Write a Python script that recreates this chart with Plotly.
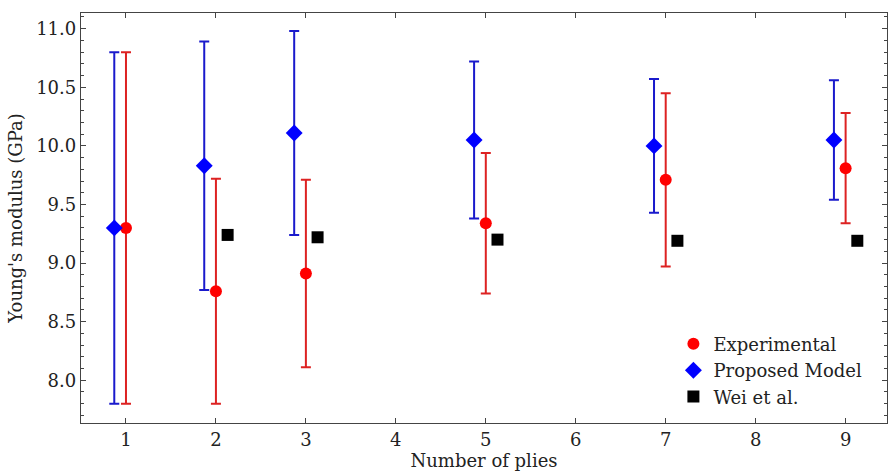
import plotly.graph_objects as go

plies = [1, 2, 3, 5, 7, 9]
exp_vals = [9.30, 8.76, 8.91, 9.34, 9.71, 9.81]
exp_err = [1.50, 0.96, 0.80, 0.60, 0.74, 0.47]
model_vals = [9.30, 9.83, 10.11, 10.05, 10.00, 10.05]
model_err = [1.50, 1.06, 0.87, 0.67, 0.57, 0.51]
wei_plies = [2, 3, 5, 7, 9]
wei_vals = [9.24, 9.22, 9.20, 9.19, 9.19]
offset = 0.13
font_family = "DejaVu Serif"

fig = go.Figure()
fig.add_trace(go.Scatter(
    x=plies, y=exp_vals, mode="markers", name="Experimental",
    marker=dict(symbol="circle", size=12, color="#ff0000"),
    error_y=dict(type="data", array=exp_err, visible=True, color="#dd2222", thickness=2, width=5),
))
fig.add_trace(go.Scatter(
    x=[p - offset for p in plies], y=model_vals, mode="markers", name="Proposed Model",
    marker=dict(symbol="diamond", size=13, color="#0000ff"),
    error_y=dict(type="data", array=model_err, visible=True, color="#1a1acc", thickness=2, width=5),
))
fig.add_trace(go.Scatter(
    x=[p + offset for p in wei_plies], y=wei_vals, mode="markers", name="Wei et al.",
    marker=dict(symbol="square", size=12, color="#000000"),
))

axis_common = dict(
    showline=True, linecolor="#444444", linewidth=1.3, mirror="ticks",
    ticks="inside", tickcolor="#444444", tickwidth=1.2, ticklen=5,
    showgrid=False, zeroline=False,
    tickfont=dict(family=font_family, size=18, color="#222222"),
)

fig.update_layout(
    width=888, height=473,
    margin=dict(l=81, r=1, t=13, b=50),
    paper_bgcolor="white", plot_bgcolor="white",
    font=dict(family=font_family, color="#222222"),
    showlegend=True,
    legend=dict(
        x=0.735, y=0.018, xanchor="left", yanchor="bottom",
        bgcolor="rgba(255,255,255,0)", borderwidth=0,
        font=dict(family=font_family, size=18, color="#222222"),
        itemsizing="trace", tracegroupgap=0,
    ),
    xaxis=dict(
        range=[0.5, 9.46], tickmode="array", tickvals=list(range(1, 10)),
        title=dict(text="Number of plies", font=dict(family=font_family, size=18), standoff=4),
        **axis_common,
    ),
    yaxis=dict(
        range=[7.635, 11.134], tickmode="array", tickvals=[8.0, 8.5, 9.0, 9.5, 10.0, 10.5, 11.0],
        ticktext=["8.0", "8.5", "9.0", "9.5", "10.0", "10.5", "11.0"],
        minor=dict(dtick=0.1, tick0=0, ticks="inside", ticklen=3, tickcolor="#444444", tickwidth=1, showgrid=False),
        title=dict(text="Young's modulus (GPa)", font=dict(family=font_family, size=18), standoff=8),
        **axis_common,
    ),
)

fig.write_html("out.html")
